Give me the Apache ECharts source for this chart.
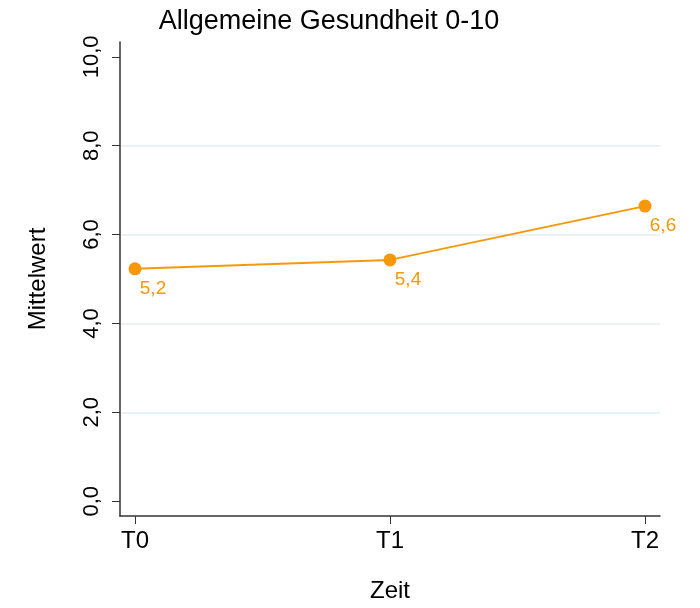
<!DOCTYPE html>
<html>
<head>
<meta charset="utf-8">
<script src="https://cdn.jsdelivr.net/npm/echarts@6/dist/echarts.min.js"></script>
<style>
  html, body { margin: 0; padding: 0; background: #fff; }
  #main { width: 700px; height: 608px; }
</style>
</head>
<body>
<div id="main"></div>
<script>
// Zeitpunkte und Mittelwerte
let zeitpunkte = ['T0', 'T1', 'T2'];
let mittelwerte = [5.23, 5.43, 6.64];
let yTicks = [0, 2, 4, 6, 8, 10];

let chart = echarts.init(document.getElementById('main'));
let orange = '#F7980A';
let font = 'Liberation Sans, Arial, sans-serif';

let punkte = mittelwerte.map(function(v, i) { return [i, v]; });

let option = {
	backgroundColor: '#fff',
	title: {
		text: 'Allgemeine Gesundheit 0-10',
		left: 324,
		textAlign: 'center',
		top: 3,
		textStyle: { fontFamily: font, fontSize: 27, fontWeight: 'normal', color: '#000' }
	},
	grid: { left: 120, right: 40, top: 42, bottom: 86 },
	xAxis: {
		type: 'value',
		min: -0.0588,
		max: 2.0588,
		name: 'Zeit',
		nameLocation: 'middle',
		nameGap: 63,
		nameTextStyle: { fontFamily: font, fontSize: 24, color: '#000' },
		axisLine: { onZero: false, lineStyle: { color: '#333', width: 1.5 } },
		axisTick: { show: true, length: 8, customValues: [0, 1, 2], lineStyle: { color: '#333' } },
		axisLabel: {
			customValues: [0, 1, 2],
			margin: 13,
			fontFamily: font, fontSize: 24, color: '#000',
			formatter: function(v) { return zeitpunkte[Math.round(v)]; }
		},
		splitLine: { show: false }
	},
	yAxis: {
		type: 'value',
		min: -0.3333,
		max: 10.3333,
		name: 'Mittelwert',
		nameLocation: 'middle',
		nameRotate: 90,
		nameGap: 70,
		nameTextStyle: { fontFamily: font, fontSize: 24, color: '#000' },
		axisLine: { show: true, onZero: false, lineStyle: { color: '#333', width: 1.5 } },
		axisTick: { show: true, length: 8, customValues: yTicks, lineStyle: { color: '#333' } },
		axisLabel: {
			customValues: yTicks,
			rotate: 90,
			margin: 17,
			fontFamily: font, fontSize: 22, color: '#000',
			formatter: function(v) { return v.toFixed(1).replace('.', ','); }
		},
		splitLine: {
			show: true,
			lineStyle: { color: '#EAF2F3', width: 2 },
			showMinLine: false,
			showMaxLine: false
		}
	},
	series: [{
		type: 'line',
		data: punkte,
		symbol: 'circle',
		symbolSize: 13,
		itemStyle: { color: orange },
		lineStyle: { color: orange, width: 2 },
		label: {
			show: true,
			position: 'bottom',
			distance: 4,
			offset: [18, 0],
			fontFamily: font, fontSize: 19, color: orange,
			formatter: function(p) { return p.value[1].toFixed(1).replace('.', ','); }
		}
	}]
};
chart.setOption(option);
</script>
</body>
</html>
